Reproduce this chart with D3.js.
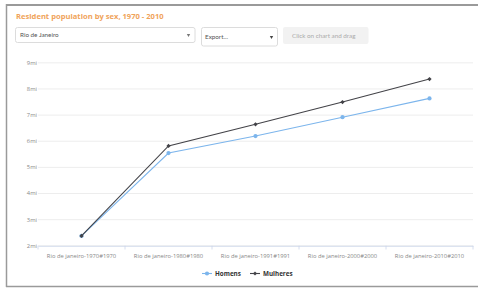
<!DOCTYPE html>
<html>
<head>
<meta charset="utf-8">
<script src="https://cdn.jsdelivr.net/npm/d3@7"></script>
<style>
  html, body { margin: 0; padding: 0; background: #fff; }
  svg { display: block; }
</style>
</head>
<body>
<svg id="chart" width="478" height="289"></svg>
<script>
const categories = [
  'Rio de janeiro-1970#1970',
  'Rio de janeiro-1980#1980',
  'Rio de janeiro-1991#1991',
  'Rio de janeiro-2000#2000',
  'Rio de janeiro-2010#2010'
];
const homens = [2.36, 5.53, 6.18, 6.90, 7.62];
const mulheres = [2.36, 5.80, 6.63, 7.48, 8.36];
const yTicks = [2, 3, 4, 5, 6, 7, 8, 9];

const svg = d3.select('#chart');
const font = "'Open Sans', sans-serif";

// frame (no right edge)
svg.append('line').attr('x1', 6.5).attr('x2', 478).attr('y1', 5).attr('y2', 5)
  .attr('stroke', '#9a9a9a').attr('stroke-width', 2);
svg.append('line').attr('x1', 6.5).attr('x2', 6.5).attr('y1', 4).attr('y2', 287)
  .attr('stroke', '#9a9a9a').attr('stroke-width', 1.5);
svg.append('line').attr('x1', 6).attr('x2', 478).attr('y1', 286.5).attr('y2', 286.5)
  .attr('stroke', '#9a9a9a').attr('stroke-width', 1.5);

// title
svg.append('text').attr('x', 16).attr('y', 18.5)
  .style('font-family', font).style('font-weight', 'bold').style('font-size', '7.6px')
  .attr('fill', '#f0a35a').text('Resident population by sex, 1970 - 2010');

// controls
const ctrlFont = "Lato, sans-serif";
svg.append('rect').attr('x', 15.5).attr('y', 27.5).attr('width', 179.5).attr('height', 15)
  .attr('rx', 2).attr('fill', '#fff').attr('stroke', '#dcdcdc');
svg.append('text').attr('x', 20).attr('y', 37).style('font-family', ctrlFont).style('font-size', '6.3px')
  .attr('fill', '#555').text('Rio de Janeiro');
svg.append('path').attr('d', d3.symbol(d3.symbolTriangle, 5)()).attr('transform', 'translate(188.5,35) rotate(180)')
  .attr('fill', '#777');

svg.append('rect').attr('x', 201.5).attr('y', 27.5).attr('width', 76).attr('height', 18.5)
  .attr('rx', 2).attr('fill', '#fff').attr('stroke', '#dcdcdc');
svg.append('text').attr('x', 205).attr('y', 38.5).style('font-family', ctrlFont).style('font-size', '6.3px')
  .attr('fill', '#555').text('Export...');
svg.append('path').attr('d', d3.symbol(d3.symbolTriangle, 5)()).attr('transform', 'translate(271.5,37) rotate(180)')
  .attr('fill', '#444');

svg.append('rect').attr('x', 283).attr('y', 27).attr('width', 85.5).attr('height', 17)
  .attr('rx', 2).attr('fill', '#f2f2f2');
svg.append('text').attr('x', 292).attr('y', 38).style('font-family', ctrlFont).style('font-size', '6.3px')
  .attr('fill', '#aaa').text('Click on chart and drag');

// scales
const x = d3.scaleBand().domain(categories).range([38, 473]);
const y = d3.scaleLinear().domain([2, 9]).range([245.3, 62.3]);

// grid + y labels
const yAxis = svg.append('g').attr('transform', 'translate(38,0)')
  .call(d3.axisLeft(y).tickValues(yTicks).tickSize(-435).tickFormat(d => d + 'mi'));
yAxis.select('.domain').remove();
yAxis.selectAll('line').attr('stroke', '#e9e9e9').attr('stroke-width', 0.8);
yAxis.selectAll('text').attr('x', -1).attr('fill', '#888')
  .style('font-family', font).style('font-size', '5.8px');

// x axis
const xAxis = svg.append('g').attr('transform', 'translate(0,245.8)')
  .call(d3.axisBottom(x).tickSize(0).tickPadding(8));
xAxis.select('.domain').attr('stroke', '#ccd6eb').attr('stroke-width', 0.8);
xAxis.selectAll('text').attr('fill', '#888').style('font-family', font).style('font-size', '5.8px');
svg.append('g').selectAll('line').data(categories.concat([null])).join('line')
  .attr('x1', (d, i) => 38 + i * x.bandwidth()).attr('x2', (d, i) => 38 + i * x.bandwidth())
  .attr('y1', 245.8).attr('y2', 249.5).attr('stroke', '#ccd6eb').attr('stroke-width', 0.8);

const cx = d => x(d) + x.bandwidth() / 2;
const line = d3.line().x((d, i) => cx(categories[i])).y(d => y(d));

// Highcharts-like markers: circle for Homens, square-diamond for Mulheres
const series = [
  { name: 'Homens', values: homens, color: '#7cb5ec', symbol: d3.symbolCircle, size: 14, rot: 0 },
  { name: 'Mulheres', values: mulheres, color: '#434348', symbol: d3.symbolSquare, size: 9, rot: 45 }
];

series.forEach(s => {
  svg.append('path').datum(s.values).attr('d', line)
    .attr('fill', 'none').attr('stroke', s.color).attr('stroke-width', 1.1);
  svg.append('g').selectAll('path').data(s.values).join('path')
    .attr('d', d3.symbol(s.symbol, s.size))
    .attr('transform', (d, i) => `translate(${cx(categories[i])},${y(d)}) rotate(${s.rot})`)
    .attr('fill', s.color);
});

// legend
const legendX = [202, 250];
series.forEach((s, i) => {
  const g = svg.append('g').attr('transform', `translate(${legendX[i]},273.5)`);
  g.append('line').attr('x1', 0).attr('x2', 10).attr('stroke', s.color).attr('stroke-width', 1.1);
  g.append('path').attr('d', d3.symbol(s.symbol, s.size)).attr('transform', `translate(5,0) rotate(${s.rot})`).attr('fill', s.color);
  g.append('text').attr('x', 13).attr('y', 2.2).style('font-family', font).style('font-weight', 'bold')
    .style('font-size', '6.3px').attr('fill', '#333').text(s.name);
});
</script>
</body>
</html>
